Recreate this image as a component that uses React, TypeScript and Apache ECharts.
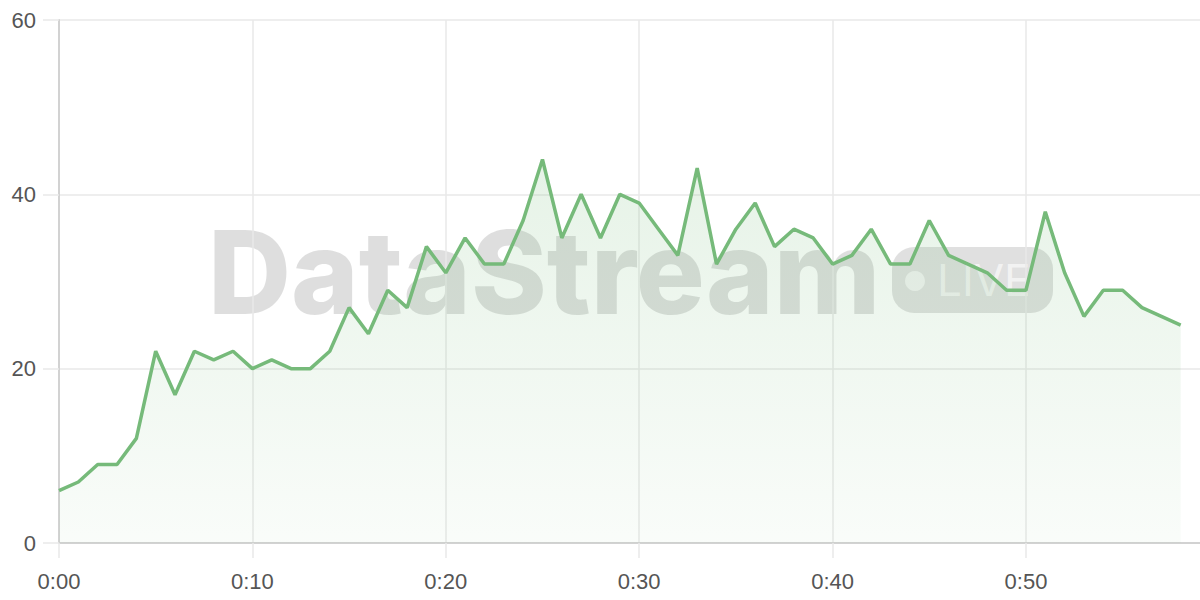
import React, { useEffect, useRef } from "react";
import * as echarts from "echarts";

const timeLabels = [
  "0:00", "0:01", "0:02", "0:03", "0:04", "0:05", "0:06", "0:07", "0:08", "0:09",
  "0:10", "0:11", "0:12", "0:13", "0:14", "0:15", "0:16", "0:17", "0:18", "0:19",
  "0:20", "0:21", "0:22", "0:23", "0:24", "0:25", "0:26", "0:27", "0:28", "0:29",
  "0:30", "0:31", "0:32", "0:33", "0:34", "0:35", "0:36", "0:37", "0:38", "0:39",
  "0:40", "0:41", "0:42", "0:43", "0:44", "0:45", "0:46", "0:47", "0:48", "0:49",
  "0:50", "0:51", "0:52", "0:53", "0:54", "0:55", "0:56", "0:57", "0:58", "0:59",
];

const viewers = [
  6, 7, 9, 9, 12, 22, 17, 22, 21, 22,
  20, 21, 20, 20, 22, 27, 24, 29, 27, 34,
  31, 35, 32, 32, 37, 44, 35, 40, 35, 40,
  39, 36, 33, 43, 32, 36, 39, 34, 36, 35,
  32, 33, 36, 32, 32, 37, 33, 32, 31, 29,
  29, 38, 31, 26, 29, 29, 27, 26, 25,
];

const yTicks = { min: 0, max: 60, interval: 20 };

export default function App() {
  const ref = useRef<HTMLDivElement>(null);

  useEffect(() => {
    if (!ref.current) return;
    const chart = echarts.init(ref.current, null, { renderer: "svg" });
    const lineColor = "#76ba7a";
    const gridColor = "#e9e9e9";
    const axisColor = "#d2d2d2";
    const labelFont = "'Liberation Sans', Helvetica, Arial, sans-serif";
    chart.setOption({
      animation: false,
      backgroundColor: "#ffffff",
      grid: {
        left: 59,
        right: 0,
        top: 20,
        bottom: 57,
        containLabel: false,
        outerBoundsMode: "none",
      },
      graphic: [
        {
          type: "group",
          silent: true,
          z: 0,
          children: [
            {
              type: "text",
              x: 208,
              y: 272,
              style: {
                text: "DataStream",
                fontFamily: "Inter, 'Noto Sans', sans-serif",
                fontWeight: 800,
                fontSize: 115,
                fill: "rgba(0,0,0,0.13)",
                verticalAlign: "middle",
                align: "left",
              },
            },
            {
              type: "rect",
              shape: { x: 892, y: 247, width: 161, height: 66, r: 22 },
              style: { fill: "rgba(0,0,0,0.12)" },
            },
            {
              type: "circle",
              shape: { cx: 915, cy: 281, r: 10 },
              style: { fill: "rgba(255,255,255,0.6)" },
            },
            {
              type: "text",
              x: 937,
              y: 280,
              style: {
                text: "LIVE",
                fontFamily: "Inter, 'Noto Sans', sans-serif",
                fontWeight: 400,
                fontSize: 44,
                fill: "rgba(255,255,255,0.6)",
                verticalAlign: "middle",
                align: "left",
              },
            },
          ],
        },
      ],
      xAxis: {
        type: "category",
        data: timeLabels,
        boundaryGap: false,
        axisLine: { show: true, lineStyle: { color: axisColor, width: 2 } },
        axisTick: {
          show: true,
          interval: 9,
          length: 15,
          lineStyle: { color: gridColor, width: 1.5 },
        },
        splitLine: {
          show: true,
          interval: 9,
          lineStyle: { color: gridColor, width: 1.5 },
        },
        axisLabel: {
          interval: 9,
          margin: 27,
          color: "#555555",
          fontSize: 22,
          fontFamily: labelFont,
        },
      },
      yAxis: {
        type: "value",
        min: yTicks.min,
        max: yTicks.max,
        interval: yTicks.interval,
        axisLine: { show: true, lineStyle: { color: axisColor, width: 2 } },
        axisTick: {
          show: true,
          length: 16,
          lineStyle: { color: gridColor, width: 1.5 },
        },
        splitLine: { show: true, lineStyle: { color: gridColor, width: 1.5 } },
        axisLabel: {
          margin: 23,
          color: "#555555",
          fontSize: 22,
          fontFamily: labelFont,
        },
      },
      series: [
        {
          type: "line",
          data: viewers,
          symbol: "none",
          z: 3,
          lineStyle: { color: lineColor, width: 3.5 },
          areaStyle: {
            color: new echarts.graphic.LinearGradient(0, 0, 0, 1, [
              { offset: 0, color: "rgba(120,188,124,0.26)" },
              { offset: 1, color: "rgba(120,188,124,0.06)" },
            ]),
          },
        },
      ],
    });
    return () => chart.dispose();
  }, []);

  return (
    <div
      ref={ref}
      style={{ position: "fixed", left: 0, top: 0, width: 1200, height: 600 }}
    />
  );
}
